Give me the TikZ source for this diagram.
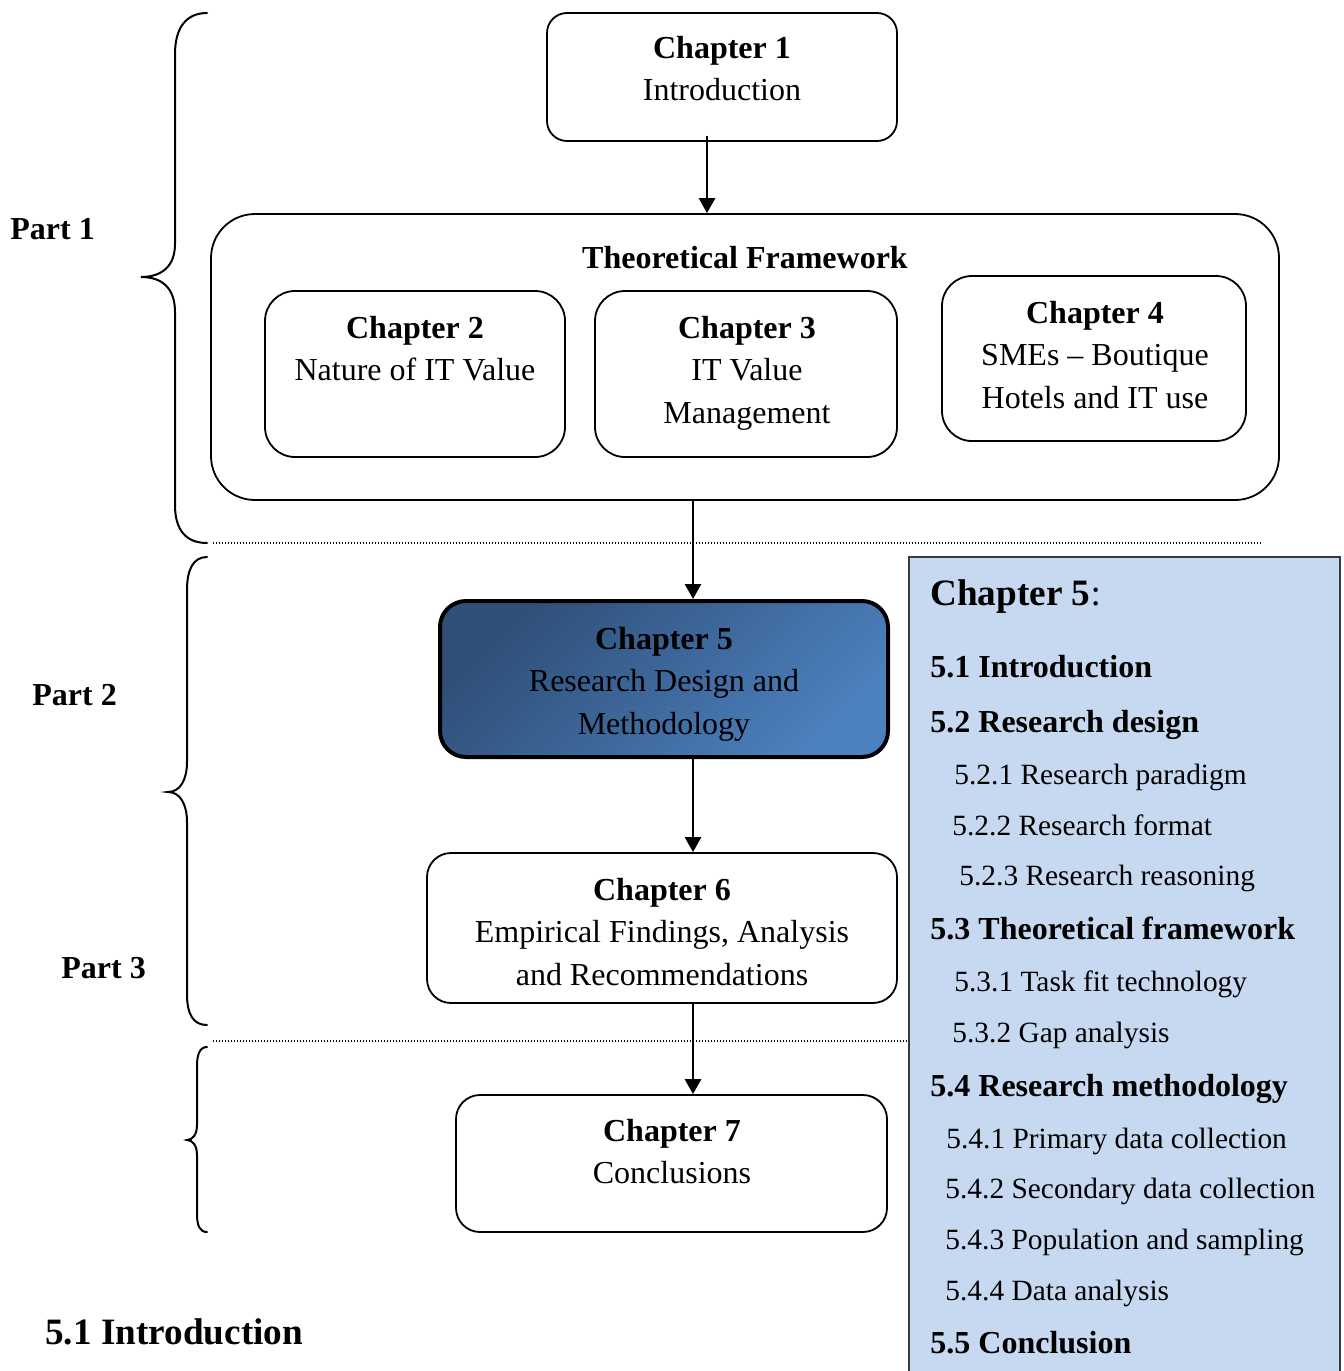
\documentclass[tikz,border=0pt]{standalone}
\usepackage{fontspec}
\setmainfont{Liberation Serif}
\usetikzlibrary{fit,arrows.meta,calc}
\definecolor{panelfill}{HTML}{C6D9F1}
\definecolor{panelline}{HTML}{3A3A3A}
\definecolor{cfivedark}{HTML}{2F4F77}
\definecolor{cfivelight}{HTML}{4C80BE}

\begin{document}
\begin{tikzpicture}[x=0.5pt,y=-0.5pt,
  txt/.style={font=\fontsize{16}{21.25}\selectfont, inner sep=0pt, align=center, anchor=base},
  lefttxt/.style={font=\fontsize{16}{21.25}\selectfont, inner sep=0pt, anchor=base west},
  subtxt/.style={font=\fontsize{14.7}{18}\selectfont, inner sep=0pt, anchor=base west},
  bigtxt/.style={font=\fontsize{18.6}{22}\selectfont\bfseries, inner sep=0pt, anchor=base west},
  chbox/.style={draw, line width=0.9pt, inner sep=0pt},
  arr/.style={line width=1.4pt, -{Triangle[length=7.5pt,width=8pt]}},
  brace/.style={line width=1pt, line cap=round},
  sep/.style={line width=0.6pt, dash pattern=on 0.6pt off 0.9pt}
]
\useasboundingbox (0,0) rectangle (1344,1371);

% connector column
\coordinate (spineA) at (707,0);
\coordinate (spine) at (693,0);

% ---- boxes ----
\node[chbox, rounded corners=10pt, fit={(547,13) (897,141)}] (ch1) {};
\node[chbox, rounded corners=22pt, fit={(211,214) (1279,500)}] (tf) {};
\node[chbox, rounded corners=15pt, fit={(265,291) (565,457)}] (ch2) {};
\node[chbox, rounded corners=15pt, fit={(595,291) (897,457)}] (ch3) {};
\node[chbox, rounded corners=15pt, fit={(942,276) (1246,441)}] (ch4) {};
\node[draw, line width=2pt, inner sep=0pt, rounded corners=13pt,
      top color=cfivedark, bottom color=cfivelight, shading angle=45,
      fit={(440,601) (888,757)}] (ch5) {};
\node[chbox, rounded corners=12pt, fit={(427,853) (897,1003)}] (ch6) {};
\node[chbox, rounded corners=12pt, fit={(456,1095) (887,1232)}] (ch7) {};

% ---- box texts (anchored at the baseline of the last line) ----
\node[txt] (t1) at (722,100.5) {\textbf{Chapter 1}\\Introduction};
\node[txt] (ttf) at (745,268) {\textbf{Theoretical Framework}};
\node[txt] (t2) at (415,380.5) {\textbf{Chapter 2}\\Nature of IT Value};
\node[txt] (t3) at (747,423) {\textbf{Chapter 3}\\IT Value\\Management};
\node[txt] (t4) at (1095,408) {\textbf{Chapter 4}\\SMEs -- Boutique\\Hotels and IT use};
\node[txt] (t5) at (664,734) {\textbf{Chapter 5}\\Research Design and\\Methodology};
\node[txt] (t6) at (662,985) {\textbf{Chapter 6}\\Empirical Findings, Analysis\\and Recommendations};
\node[txt] (t7) at (672,1183.5) {\textbf{Chapter 7}\\Conclusions};

% ---- connectors ----
\draw[arr] ($(ch1.south -| spineA)+(0,-6)$) -- (tf.north -| spineA);
\draw[arr] (tf.south -| spine) -- (ch5.north -| spine);
\draw[arr] (ch5.south -| spine) -- (ch6.north -| spine);
\draw[arr] (ch6.south -| spine) -- (ch7.north -| spine);

% ---- part separators ----
\coordinate (sepAl) at (213,543);
\coordinate (sepAr) at (1262,543);
\coordinate (sepBl) at (213,1041);
\coordinate (sepBr) at (908,1041);
\draw[sep] (sepAl) -- (sepAr);
\draw[sep] (sepBl) -- (sepBr);

% ---- braces ----
\draw[brace] (207,13) .. controls (186,13) and (175,28) .. (175,54)
  -- (175,244) .. controls (175,266) and (162,277) .. (141,277)
  .. controls (162,277) and (175,288) .. (175,312)
  -- (175,505) .. controls (175,530) and (186,543) .. (207,543);
\draw[brace] (207,557) .. controls (193,557) and (187,570) .. (187,590)
  -- (187,762) .. controls (187,780) and (180,792) .. (168,792)
  .. controls (180,792) and (187,804) .. (187,822)
  -- (187,994) .. controls (187,1014) and (193,1025) .. (207,1025);
\draw[brace] (207,1047) .. controls (200,1047) and (197,1054) .. (197,1066)
  -- (197,1125) .. controls (197,1134) and (193,1140) .. (187,1140)
  .. controls (193,1140) and (197,1146) .. (197,1155)
  -- (197,1214) .. controls (197,1226) and (200,1232) .. (207,1232);

% ---- part labels ----
\node[lefttxt] (p1) at (10,239) {\textbf{Part 1}};
\node[lefttxt] (p2) at (32,705) {\textbf{Part 2}};
\node[lefttxt] (p3) at (61,978) {\textbf{Part 3}};

% ---- chapter 5 outline panel ----
\fill[panelfill] (909,557) rectangle (1340,1371);
\draw[panelline, line width=1pt] (909,1371) -- (909,557) -- (1340,557) -- (1340,1371);
\node[bigtxt] (o0) at (930,605) {Chapter 5\mdseries:};
\node[lefttxt] (o1) at (930,677) {\textbf{5.1 Introduction}};
\node[lefttxt] (o2) at (930,732) {\textbf{5.2 Research design}};
\node[subtxt] (o21) at (954,784) {5.2.1 Research paradigm};
\node[subtxt] (o22) at (952,835) {5.2.2 Research format};
\node[subtxt] (o23) at (959,885) {5.2.3 Research reasoning};
\node[lefttxt] (o3) at (930,939) {\textbf{5.3 Theoretical framework}};
\node[subtxt] (o31) at (954,991) {5.3.1 Task fit technology};
\node[subtxt] (o32) at (952,1042) {5.3.2 Gap analysis};
\node[lefttxt] (o4) at (930,1096) {\textbf{5.4 Research methodology}};
\node[subtxt] (o41) at (946,1148) {5.4.1 Primary data collection};
\node[subtxt] (o42) at (945,1198) {5.4.2 Secondary data collection};
\node[subtxt] (o43) at (945,1249) {5.4.3 Population and sampling};
\node[subtxt] (o44) at (945,1300) {5.4.4 Data analysis};
\node[lefttxt] (o5) at (930,1353) {\textbf{5.5 Conclusion}};

% ---- section heading ----
\node[bigtxt] (sec) at (45,1344) {5.1 Introduction};
\end{tikzpicture}
\end{document}
